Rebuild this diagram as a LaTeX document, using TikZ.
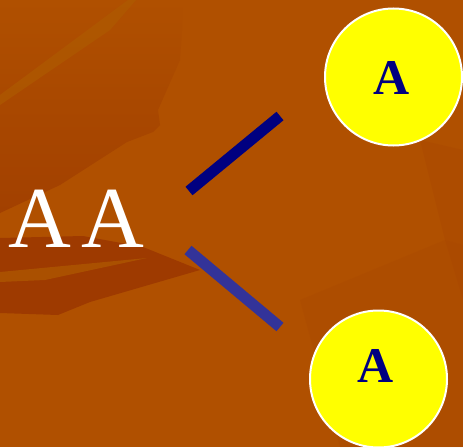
\documentclass[tikz,border=0pt]{standalone}
\usepackage{fontspec}
\setmainfont{Liberation Serif}
\definecolor{bgmain}{HTML}{B05000}
\definecolor{bgdark}{HTML}{9E3A00}
\definecolor{bgdeep}{HTML}{A24000}
\definecolor{bgmid}{HTML}{A84600}
\definecolor{bglight}{HTML}{AE5A00}
\definecolor{bgstripe}{HTML}{AA5000}
\definecolor{navyline}{HTML}{000080}
\definecolor{blueline}{HTML}{333399}
\definecolor{circyellow}{HTML}{FFFF00}
\tikzset{
  ball/.style={circle, fill=circyellow, draw=white, line width=2pt, minimum size=137pt, inner sep=0pt},
  balltext/.style={text=navyline, font=\fontsize{50}{50}\selectfont\bfseries, inner sep=0pt, anchor=base},
  bigtext/.style={text=white, font=\fontsize{87}{87}\selectfont, inner sep=0pt, anchor=base west},
  branch/.style={line width=11pt, line cap=butt}
}
\begin{document}
\begin{tikzpicture}[x=1pt,y=-1pt]
\useasboundingbox (0,0) rectangle (463,447);
% background
\fill[bgmain] (0,0) rectangle (463,447);
\shade[top color=bgmain, bottom color=bgdeep] (0,0) -- (183,0) -- (182,30) -- (180,60) -- (158,110) -- (160,125) -- (153,132) -- (127,142) -- (60,185) -- (0,213) -- cycle;
\fill[bglight, opacity=0.7] (0,95) -- (128,0) -- (136,0) -- (110,30) -- (0,105) -- cycle;
\fill[bgmid, opacity=0.35] (420,140) -- (463,150) -- (463,300) -- (445,240) -- cycle;
\fill[bgmid, opacity=0.25] (300,300) -- (445,240) -- (463,245) -- (463,447) -- (340,447) -- cycle;
\fill[bgdark] (0,238) -- (83,236) -- (143,247) -- (200,270) -- (90,302) -- (58,315) -- (0,313) -- cycle;
\fill[bgstripe] (0,272) -- (147,258) -- (45,280) -- (0,282) -- cycle;
% text
\node[bigtext] (aa) at (8.7,247) {A\kern10ptA};
% circles
\node[ball] (c1) at (393.5,77) {};
\node[ball] (c2) at (378.5,379) {};
\node[balltext] (t1) at (392,94) {A};
\node[balltext] (t2) at (376,382) {A};
% branches
\coordinate (l1a) at (189,191);
\coordinate (l1b) at (280,116);
\coordinate (l2a) at (188,250);
\coordinate (l2b) at (280,327);
\draw[branch, navyline] (l1a) -- (l1b);
\draw[branch, blueline] (l2a) -- (l2b);
\end{tikzpicture}
\end{document}
